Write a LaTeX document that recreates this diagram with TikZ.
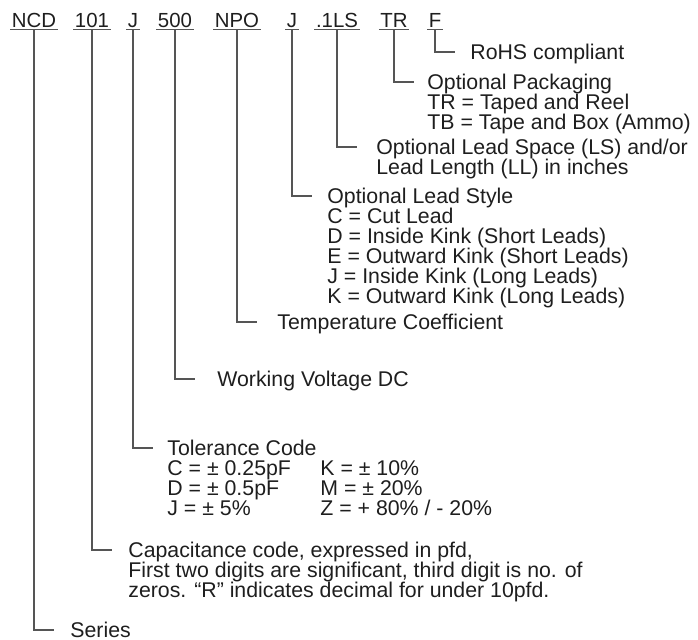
\documentclass[tikz,border=0pt]{standalone}
\usepackage{fontspec}
\setmainfont{Liberation Sans}
\definecolor{textc}{HTML}{1E1E1E}
\definecolor{linec}{HTML}{555555}
\begin{document}
\begin{tikzpicture}[x=0.5pt,y=-0.5pt,
  font=\fontsize{10.65pt}{10pt}\selectfont,
  code/.style={anchor=base, inner xsep=0.6pt, inner ysep=0pt, text depth=0pt, text=textc, font=\fontsize{10.2pt}{10pt}\selectfont},
  desc/.style={anchor=west, inner sep=0pt, text height=7.6pt, text depth=0pt, text=textc},
  conn/.style={draw=linec, line width=0.7pt},
  ul/.style={draw=linec, line width=0.6pt}]
\useasboundingbox (0,0) rectangle (698,639);

% top code labels
\node[code] (ncd) at (34,27) {NCD};
\node[code] (cap) at (92,27) {101};
\node[code] (tol) at (133,27) {J};
\node[code] (vol) at (175,27) {500};
\node[code] (npo) at (237,27) {NPO};
\node[code] (sty) at (292,27) {J};
\node[code] (lsp) at (337,27) {.1LS};
\node[code] (pkg) at (394,27) {TR};
\node[code] (fff) at (435,27) {F};

\foreach \n in {ncd,cap,tol,vol,npo,sty,lsp,pkg,fff}
  \draw[ul] ([yshift=-1.1pt]\n.south west) -- ([yshift=-1.1pt]\n.south east);

% descriptions
\node[desc] (drohs) at (470,52) {RoHS compliant};

\node[desc] (dpkg) at (427,82) {Optional Packaging};
\node[desc] (dpkg1) at (427,102) {TR = Taped and Reel};
\node[desc] (dpkg2) at (427,122) {TB = Tape and Box (Ammo)};

\node[desc] (dlsp) at (376,147) {Optional Lead Space (LS) and/or};
\node[desc] (dlsp1) at (376,167) {Lead Length (LL) in inches};

\node[desc] (dsty) at (327,196) {Optional Lead Style};
\node[desc] (dsty1) at (327,216) {C = Cut Lead};
\node[desc] (dsty2) at (327,236) {D = Inside Kink (Short Leads)};
\node[desc] (dsty3) at (327,256) {E = Outward Kink (Short Leads)};
\node[desc] (dsty4) at (327,276) {J = Inside Kink (Long Leads)};
\node[desc] (dsty5) at (327,296) {K = Outward Kink (Long Leads)};

\node[desc] (dnpo) at (277,322) {Temperature Coefficient};

\node[desc] (dvol) at (217,379) {Working Voltage DC};

\node[desc] (dtol) at (167,448) {Tolerance Code};
\node[desc] (dtol1) at (167,468) {C = ± 0.25pF};
\node[desc] (dtol2) at (167,488) {D = ± 0.5pF};
\node[desc] (dtol3) at (167,508) {J = ± 5\%};
\node[desc] (dtol4) at (320,468) {K = ± 10\%};
\node[desc] (dtol5) at (320,488) {M = ± 20\%};
\node[desc] (dtol6) at (320,508) {Z = + 80\% / - 20\%};

\node[desc] (dcap) at (128,550) {Capacitance code, expressed in pfd,};
\node[desc] (dcap1) at (128,570) {First two digits are significant, third digit is no. of};
\node[desc] (dcap2) at (128,590) {zeros. “R” indicates decimal for under 10pfd.};

\node[desc] (dncd) at (70,630) {Series};

% connectors
\foreach \a/\b in {fff/drohs, pkg/dpkg, lsp/dlsp, sty/dsty, npo/dnpo, vol/dvol, tol/dtol, cap/dcap, ncd/dncd}
  \draw[conn] ([yshift=-1.1pt]\a.south) -- (\a.south |- \b.west) -- ++(20,0);
\end{tikzpicture}
\end{document}
